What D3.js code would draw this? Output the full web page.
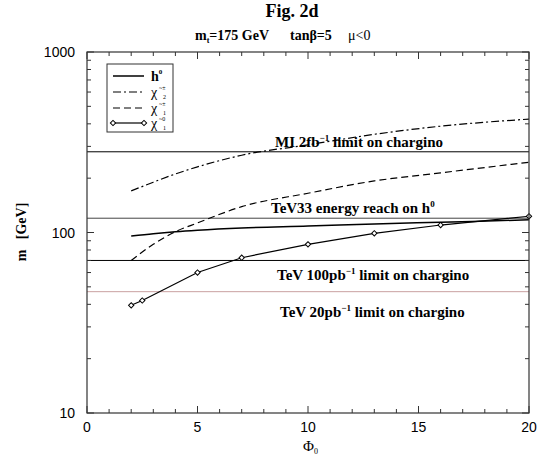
<!DOCTYPE html>
<html><head><meta charset="utf-8">
<script src="https://cdn.jsdelivr.net/npm/d3@7"></script>
<style>body{margin:0;background:#fff}svg{display:block}</style>
</head><body>
<svg id="c" width="549" height="461"></svg>
<script>
// ---- data ----
const phiMarks = [2, 2.5, 5, 7, 10, 13, 16, 20];
const chi01 = [39.5, 42, 60, 72.5, 86, 99, 110, 123];
const phiCurve = [2, 3, 4, 5, 7, 10, 13, 16, 20];
const h0 = [95.5, 98.5, 101, 103, 106, 108.5, 111.5, 114, 117.5];
const chipm2 = [170, 190, 211, 231, 268, 306, 350, 388, 425];
const chipm1 = [70, 86, 101, 113, 139, 165, 193, 214, 245];
const limitValues = [280, 120, 70, 47];
const xTicks = [0, 5, 10, 15, 20];
const yTicks = [10, 100, 1000];

const svg = d3.select("#c");
const L = 87, R = 529, T = 52, B = 413;
const x = d3.scaleLinear().domain([0, 20]).range([L, R]);
const y = d3.scaleLog().domain([10, 1000]).range([B, T]);
const serif = "'Liberation Serif','Times New Roman',serif";
const sans = "'Liberation Sans',Arial,sans-serif";

// titles
svg.append("text").attr("x", 292).attr("y", 17).attr("text-anchor", "middle")
  .attr("font-family", serif).attr("font-weight", "bold").attr("font-size", 18).text("Fig. 2d");
const subFont = 14;
const s1 = svg.append("text").attr("x", 195).attr("y", 40).attr("font-family", serif)
  .attr("font-weight", "bold").attr("font-size", subFont);
s1.append("tspan").text("m");
s1.append("tspan").attr("font-size", 8).attr("dy", 3).text("t");
s1.append("tspan").attr("dy", -3).text("=175 GeV");
svg.append("text").attr("x", 290).attr("y", 40).attr("font-family", serif)
  .attr("font-weight", "bold").attr("font-size", subFont).text("tan\u03b2=5");
svg.append("text").attr("x", 348).attr("y", 40).attr("font-family", serif)
  .attr("font-size", subFont).text("\u03bc<0");

// horizontal limit lines
const limitColors = ["#000", "#444", "#000", "#c9a0a0"];
svg.selectAll("line.lim").data(limitValues).enter().append("line")
  .attr("x1", L).attr("x2", R).attr("y1", d => y(d)).attr("y2", d => y(d))
  .attr("stroke", (d, i) => limitColors[i]).attr("stroke-width", 1);

// curves
const lineC = d3.line().x(d => x(d[0])).y(d => y(d[1])).curve(d3.curveMonotoneX);
const lineM = d3.line().x(d => x(d[0])).y(d => y(d[1]));
const zipC = arr => phiCurve.map((p, i) => [p, arr[i]]);
svg.append("path").attr("d", lineC(zipC(chipm2))).attr("fill", "none").attr("stroke", "#000")
  .attr("stroke-width", 1.2).attr("stroke-dasharray", "8,3,2,3");
svg.append("path").attr("d", lineC(zipC(chipm1))).attr("fill", "none").attr("stroke", "#000")
  .attr("stroke-width", 1.2).attr("stroke-dasharray", "7,4");
svg.append("path").attr("d", lineC(zipC(h0))).attr("fill", "none").attr("stroke", "#000")
  .attr("stroke-width", 1.5);
const m01 = phiMarks.map((p, i) => [p, chi01[i]]);
svg.append("path").attr("d", lineM(m01)).attr("fill", "none").attr("stroke", "#000").attr("stroke-width", 1.2);
const diamondPath = d3.symbol().type(d3.symbolSquare).size(14)();
svg.selectAll("path.mk").data(m01).enter().append("path")
  .attr("d", diamondPath)
  .attr("transform", d => `translate(${x(d[0])},${y(d[1])}) rotate(45)`)
  .attr("fill", "#fff").attr("stroke", "#000").attr("stroke-width", 1);

// annotation texts
function annot(xp, yp, parts) {
  const t = svg.append("text").attr("x", xp).attr("y", yp).attr("font-family", serif)
    .attr("font-weight", "bold").attr("font-size", 15);
  parts.forEach(p => {
    if (p.sup) t.append("tspan").attr("font-size", 9).attr("dy", -6).text(p.sup);
    else t.append("tspan").attr("dy", p.back ? 6 : 0).text(p.t);
  });
}
annot(275, 147, [{t: "MI 2fb"}, {sup: "\u22121"}, {t: "\u00a0limit on chargino", back: true}]);
annot(271, 213, [{t: "TeV33 energy reach on h"}, {sup: "0"}]);
annot(277, 280, [{t: "TeV 100pb"}, {sup: "\u22121"}, {t: "\u00a0limit on chargino", back: true}]);
annot(280, 317, [{t: "TeV 20pb"}, {sup: "\u22121"}, {t: "\u00a0limit on chargino", back: true}]);

// axes frame & ticks
const frame = svg.append("g");
frame.append("rect").attr("x", L).attr("y", T).attr("width", R - L).attr("height", B - T)
  .attr("fill", "none").attr("stroke", "#333").attr("stroke-width", 1.2);
const xMinor = d3.range(0, 21, 1);
frame.selectAll("line.xb").data(xMinor).enter().append("line")
  .attr("x1", d => x(d)).attr("x2", d => x(d)).attr("y1", B).attr("y2", d => B - (d % 5 === 0 ? 7 : 4))
  .attr("stroke", "#333");
frame.selectAll("line.xt").data(xMinor).enter().append("line")
  .attr("x1", d => x(d)).attr("x2", d => x(d)).attr("y1", T).attr("y2", d => T + (d % 5 === 0 ? 7 : 4))
  .attr("stroke", "#333");
const yMinor = [];
[10, 100].forEach(dec => { for (let k = 1; k <= 10; k++) yMinor.push(dec * k); });
frame.selectAll("line.yl").data(yMinor).enter().append("line")
  .attr("y1", d => y(d)).attr("y2", d => y(d)).attr("x1", L).attr("x2", d => L + (yTicks.includes(d) ? 7 : 4))
  .attr("stroke", "#333");
frame.selectAll("line.yr").data(yMinor).enter().append("line")
  .attr("y1", d => y(d)).attr("y2", d => y(d)).attr("x1", R).attr("x2", d => R - (yTicks.includes(d) ? 7 : 4))
  .attr("stroke", "#333");

svg.selectAll("text.xl").data(xTicks).enter().append("text")
  .attr("x", d => x(d)).attr("y", 432).attr("text-anchor", "middle")
  .attr("font-family", sans).attr("font-size", 14).text(d => d);
svg.selectAll("text.yl").data(yTicks).enter().append("text")
  .attr("x", 75).attr("y", d => y(d) + 5).attr("text-anchor", "end")
  .attr("font-family", sans).attr("font-size", 14).text(d => d);

// axis titles
const xt = svg.append("text").attr("x", 303).attr("y", 451).attr("font-family", serif).attr("font-size", 15);
xt.append("tspan").text("\u03a6");
xt.append("tspan").attr("font-size", 8).attr("dy", 3).text("0");
svg.append("text").attr("transform", "translate(26,232) rotate(-90)").attr("text-anchor", "middle")
  .attr("font-family", serif).attr("font-weight", "bold").attr("font-size", 14)
  .text("m\u00a0\u00a0\u00a0[GeV]");

// legend
const lg = svg.append("g");
lg.append("rect").attr("x", 107).attr("y", 64).attr("width", 66).attr("height", 68)
  .attr("fill", "#fff").attr("stroke", "#333").attr("stroke-width", 1);
const legY = [76, 92, 108, 123];
const dashes = [null, "8,3,2,3", "7,4", null];
legY.forEach((ly, i) => {
  lg.append("line").attr("x1", 113).attr("x2", 144).attr("y1", ly).attr("y2", ly)
    .attr("stroke", "#000").attr("stroke-width", i === 0 ? 1.5 : 1.2)
    .attr("stroke-dasharray", dashes[i]);
});
[113, 144].forEach(lx => lg.append("path").attr("d", diamondPath)
  .attr("transform", `translate(${lx},${legY[3]}) rotate(45)`).attr("fill", "#fff").attr("stroke", "#000"));
const lt0 = lg.append("text").attr("x", 151).attr("y", legY[0] + 5).attr("font-family", serif)
  .attr("font-weight", "bold").attr("font-size", 14);
lt0.append("tspan").text("h");
lt0.append("tspan").attr("font-size", 7).attr("dy", -7).text("0");
const chiLabels = [["~\u00b1", "2"], ["~\u00b1", "1"], ["~0", "1"]];
chiLabels.forEach((cl, i) => {
  const b = legY[i + 1] + 5;
  lg.append("text").attr("x", 151).attr("y", b).attr("font-family", serif).attr("font-size", 14).text("\u03c7");
  lg.append("text").attr("x", 159).attr("y", b - 7).attr("font-family", serif).attr("font-size", 6).text(cl[0]);
  lg.append("text").attr("x", 163).attr("y", b + 2).attr("font-family", serif).attr("font-size", 6).text(cl[1]);
});
</script>
</body></html>
